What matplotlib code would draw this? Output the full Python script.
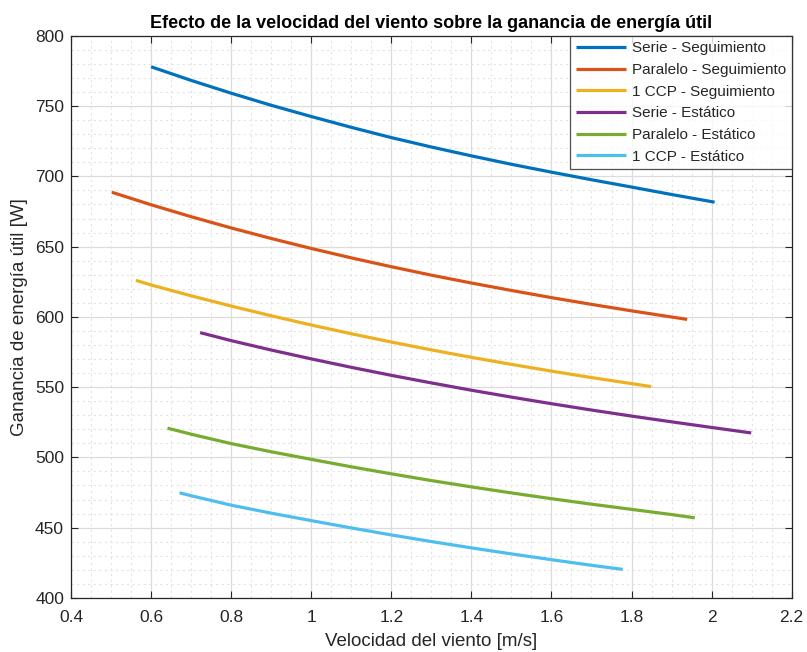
import matplotlib
matplotlib.use("Agg")
import matplotlib.pyplot as plt
from matplotlib.ticker import MultipleLocator

plt.rcParams['font.family'] = ['Liberation Sans', 'DejaVu Sans']

# Datos (velocidad [m/s], ganancia [W])
x_serie_seg = [0.60, 0.70, 0.80, 0.90, 1.00, 1.10, 1.20, 1.30, 1.40, 1.50, 1.60, 1.70, 1.80, 1.90, 2.00, 2.0075]
y_serie_seg = [778.0, 768.3, 759.2, 750.6, 742.6, 734.9, 727.6, 720.9, 714.6, 708.6, 703.0, 697.6, 692.4, 687.1, 682.0, 681.6]

x_par_seg = [0.502, 0.60, 0.70, 0.80, 0.90, 1.00, 1.10, 1.20, 1.30, 1.40, 1.50, 1.60, 1.70, 1.80, 1.939]
y_par_seg = [688.7, 679.8, 671.3, 663.3, 655.8, 648.7, 642.0, 635.7, 629.7, 624.1, 618.8, 613.7, 608.9, 604.3, 598.2]

x_ccp_seg = [0.562, 0.60, 0.70, 0.80, 0.90, 1.00, 1.10, 1.20, 1.30, 1.40, 1.50, 1.60, 1.70, 1.80, 1.849]
y_ccp_seg = [626.0, 622.7, 615.0, 607.7, 600.8, 594.2, 588.0, 582.1, 576.5, 571.2, 566.2, 561.4, 556.8, 552.5, 550.4]

x_serie_est = [0.7225, 0.80, 0.90, 1.00, 1.10, 1.20, 1.30, 1.40, 1.50, 1.60, 1.70, 1.80, 1.90, 2.00, 2.099]
y_serie_est = [588.8, 583.1, 576.4, 570.1, 564.1, 558.4, 553.0, 547.8, 542.9, 538.2, 533.7, 529.4, 525.3, 521.3, 517.4]

x_par_est = [0.641, 0.70, 0.80, 0.90, 1.00, 1.10, 1.20, 1.30, 1.40, 1.50, 1.60, 1.70, 1.80, 1.90, 1.958]
y_par_est = [520.8, 516.5, 509.8, 504.0, 498.6, 493.3, 488.3, 483.5, 479.0, 474.7, 470.6, 466.7, 463.0, 459.3, 457.0]

x_ccp_est = [0.671, 0.70, 0.80, 0.90, 1.00, 1.10, 1.20, 1.30, 1.40, 1.50, 1.60, 1.70, 1.778]
y_ccp_est = [474.8, 472.7, 466.0, 460.3, 455.0, 449.8, 444.8, 440.1, 435.6, 431.3, 427.2, 423.2, 420.3]

etiquetas = ['Serie - Seguimiento', 'Paralelo - Seguimiento', '1 CCP - Seguimiento',
             'Serie - Estático', 'Paralelo - Estático', '1 CCP - Estático']
colores = ['#0072BD', '#D95319', '#EDB120', '#7E2F8E', '#77AC30', '#4DBEEE']

xs = [x_serie_seg, x_par_seg, x_ccp_seg, x_serie_est, x_par_est, x_ccp_est]
ys = [y_serie_seg, y_par_seg, y_ccp_seg, y_serie_est, y_par_est, y_ccp_est]

fig = plt.figure(figsize=(8.07, 6.52), dpi=100)
ax = fig.add_axes([0.088, 0.083, 0.893, 0.862])

for x, y, lab, c in zip(xs, ys, etiquetas, colores):
    ax.plot(x, y, color=c, linewidth=2.3, label=lab, solid_capstyle='butt')

ax.set_xlim(0.4, 2.2)
ax.set_ylim(400, 800)
ax.xaxis.set_major_locator(MultipleLocator(0.2))
ax.xaxis.set_minor_locator(MultipleLocator(0.05))
ax.yaxis.set_major_locator(MultipleLocator(50))
ax.yaxis.set_minor_locator(MultipleLocator(10))
ax.set_xticklabels([f'{v:g}' for v in ax.get_xticks()])

# rejilla estilo MATLAB
ax.grid(which='major', color='#dcdcdc', linewidth=0.9, linestyle='-')
ax.grid(which='minor', color='#e3e3e3', linewidth=0.8, linestyle=(0, (2, 3)))
ax.set_axisbelow(True)

for s in ax.spines.values():
    s.set_color('#262626')
    s.set_linewidth(0.9)
ax.tick_params(which='both', direction='in', top=True, right=True, colors='#262626',
               labelsize=12.5)
ax.tick_params(which='major', length=5)
ax.tick_params(which='minor', length=0)
ax.tick_params(axis='x', pad=8.5)
ax.tick_params(axis='y', pad=5)

ax.set_title('Efecto de la velocidad del viento sobre la ganancia de energía útil',
             fontsize=13, fontweight='bold', color='black', pad=6)
ax.set_xlabel('Velocidad del viento [m/s]', fontsize=13.5, color='#262626')
ax.set_ylabel('Ganancia de energía útil [W]', fontsize=13.5, color='#262626')
ax.xaxis.set_label_coords(0.5, -0.062)
ax.yaxis.set_label_coords(-0.06, 0.5)

leg = ax.legend(loc='upper right', fontsize=11, frameon=True, fancybox=False,
                edgecolor='#262626', borderaxespad=0, handlelength=3.3,
                handletextpad=0.4, labelspacing=0.5, borderpad=0.36)
leg.get_frame().set_linewidth(0.9)
for t in leg.get_texts():
    t.set_color('#262626')

fig.savefig('out.png', dpi=100)
